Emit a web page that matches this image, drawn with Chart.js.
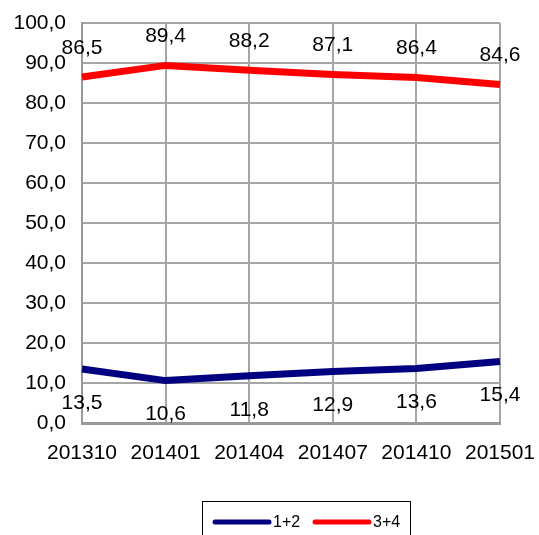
<!DOCTYPE html>
<html>
<head>
<meta charset="utf-8">
<script src="https://cdn.jsdelivr.net/npm/chart.js@4/dist/chart.umd.min.js"></script>
<style>
  html,body{margin:0;padding:0;background:#fff;}
  #wrap{width:539px;height:535px;}
</style>
</head>
<body>
<div id="wrap"><canvas id="c" width="539" height="535"></canvas></div>
<script>
const categories = ['201310','201401','201404','201407','201410','201501'];
const series12 = [13.5, 10.6, 11.8, 12.9, 13.6, 15.4];
const series34 = [86.5, 89.4, 88.2, 87.1, 86.4, 84.6];
const seriesNames = ['1+2', '3+4'];
const yTicks = [0,10,20,30,40,50,60,70,80,90,100];

const FONT = 'Liberation Sans, Arial, sans-serif';
const fmt = v => v.toFixed(1).replace('.', ',');

const labelPlugin = {
  id: 'labels',
  afterDatasetsDraw(chart) {
    const ctx = chart.ctx;
    ctx.save();
    ctx.font = '21px ' + FONT;
    ctx.fillStyle = '#000';
    ctx.textAlign = 'center';
    ctx.textBaseline = 'middle';
    chart.data.datasets.forEach((ds, di) => {
      const meta = chart.getDatasetMeta(di);
      meta.data.forEach((pt, i) => {
        const off = di === 0 ? 34 : -29;
        ctx.fillText(fmt(ds.data[i]), pt.x, pt.y + off);
      });
    });
    ctx.restore();
  },
  afterDraw(chart) {
    const ctx = chart.ctx;
    ctx.save();
    ctx.strokeStyle = '#000';
    ctx.lineWidth = 1;
    ctx.strokeRect(202.5, 501.5, 208, 40);
    const items = chart.data.datasets;
    const xs = [215, 315];
    ctx.font = '16px ' + FONT;
    ctx.textBaseline = 'middle';
    ctx.textAlign = 'left';
    items.forEach((ds, i) => {
      ctx.strokeStyle = ds.borderColor;
      ctx.lineWidth = 5;
      ctx.lineCap = 'round';
      ctx.beginPath();
      ctx.moveTo(xs[i], 522);
      ctx.lineTo(xs[i] + 54, 522);
      ctx.stroke();
      ctx.fillStyle = '#000';
      ctx.fillText(ds.label, xs[i] + 58, 523);
    });
    ctx.restore();
  }
};

new Chart(document.getElementById('c'), {
  type: 'line',
  data: {
    labels: categories,
    datasets: [
      { label: seriesNames[0], data: series12, borderColor: '#000080', backgroundColor: '#000080', borderWidth: 7, pointRadius: 0, tension: 0 },
      { label: seriesNames[1], data: series34, borderColor: '#ff0000', backgroundColor: '#ff0000', borderWidth: 7, pointRadius: 0, tension: 0 }
    ]
  },
  options: {
    responsive: false,
    animation: false,
    events: [],
    layout: { padding: { top: 23, right: 39, left: 0, bottom: 0 } },
    plugins: { legend: { display: false }, tooltip: { enabled: false } },
    scales: {
      x: {
        offset: false,
        grid: { color: '#a6a6a6', lineWidth: 2, drawTicks: false },
        border: { color: '#999999', width: 3 },
        ticks: { color: '#000', font: { family: FONT, size: 21 }, padding: 18, maxRotation: 0, autoSkip: false },
        afterFit(s) { s.height = 112; s.paddingLeft = 0; s.paddingRight = 0; }
      },
      y: {
        min: 0, max: 100,
        afterBuildTicks(s) { s.ticks = yTicks.map(v => ({ value: v })); },
        grid: { color: '#a6a6a6', lineWidth: 2, drawTicks: false },
        border: { color: '#999999', width: 2 },
        ticks: { color: '#000', font: { family: FONT, size: 21 }, padding: 16, callback: v => fmt(v) },
        afterFit(s) { s.width = 82; s.paddingTop = 0; s.paddingBottom = 0; }
      }
    }
  },
  plugins: [labelPlugin]
});
</script>
</body>
</html>
